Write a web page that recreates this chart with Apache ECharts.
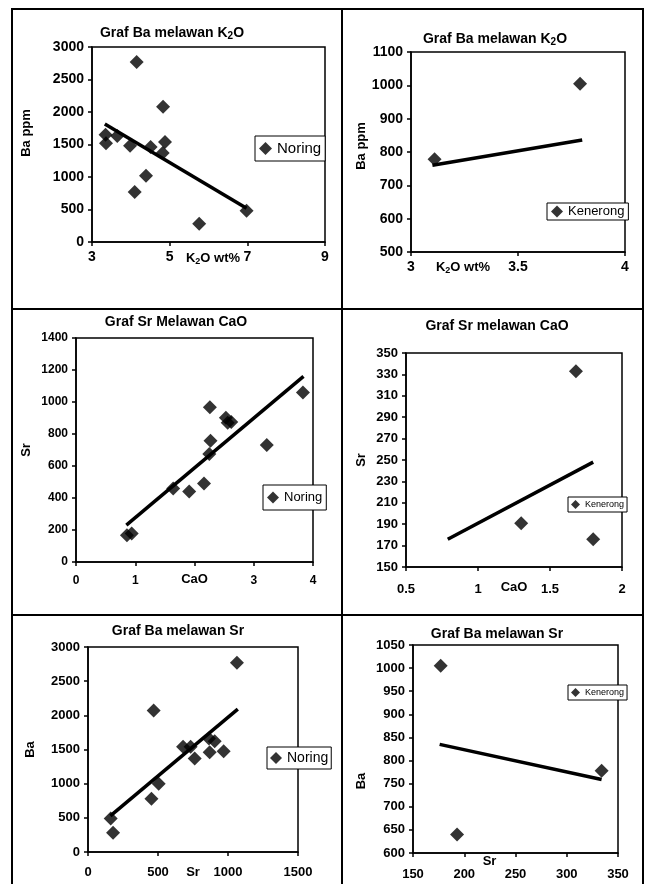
<!DOCTYPE html>
<html>
<head>
<meta charset="utf-8">
<title>Graf Noring / Kenerong</title>
<script src="https://cdn.jsdelivr.net/npm/echarts@6/dist/echarts.min.js"></script>
<style>
  html, body { margin: 0; padding: 0; background: #fff; }
  #main { width: 645px; height: 884px; }
</style>
</head>
<body>
<div id="main"></div>
<script>
// --- Noring: Ba vs K2O
var k2oNoring = [3.35, 3.36, 3.65, 3.98, 4.10, 4.39, 4.15, 4.51, 4.82, 4.88, 4.83, 5.76, 6.98];
var baNoring1 = [1650, 1520, 1630, 1480, 770, 1020, 2770, 1460, 1370, 1540, 2080, 280, 480];
var trend1X = [3.33, 6.98];
var trend1Y = [1815, 520];

// --- Kenerong: Ba vs K2O
var k2oKenerong = [3.11, 3.79];
var baKenerong2 = [778, 1005];
var trend2X = [3.10, 3.80];
var trend2Y = [760, 836];

// --- Noring: Sr vs CaO
var caoNoring = [0.86, 0.94, 1.64, 1.91, 2.16, 2.26, 2.27, 2.25, 2.53, 2.56, 2.62, 3.22, 3.83];
var srNoring3 = [167, 178, 460, 440, 490, 967, 758, 675, 902, 870, 875, 731, 1060];
var trend3X = [0.85, 3.84];
var trend3Y = [230, 1160];

// --- Kenerong: Sr vs CaO
var caoKenerong = [1.68, 1.30, 1.80];
var srKenerong4 = [333, 191, 176];
var trend4X = [0.79, 1.80];
var trend4Y = [176, 248];

// --- Noring: Ba vs Sr
var srNoring5 = [162, 179, 453, 505, 469, 679, 733, 762, 864, 905, 869, 969, 1064];
var baNoring5 = [490, 280, 780, 1000, 2070, 1540, 1540, 1370, 1660, 1620, 1460, 1475, 2770];
var trend5X = [160, 1070];
var trend5Y = [530, 2090];

// --- Kenerong: Ba vs Sr
var srKenerong6 = [177, 193, 334];
var baKenerong6 = [1005, 640, 778];
var trend6X = [176, 334];
var trend6Y = [835, 759];

var titles = ['Graf Ba melawan K{s|2}O', 'Graf Ba melawan K{s|2}O', 'Graf Sr Melawan CaO',
              'Graf Sr melawan CaO', 'Graf Ba melawan Sr', 'Graf Ba melawan Sr'];
var xNames = ['K{s|2}O wt%', 'K{s|2}O wt%', 'CaO', 'CaO', 'Sr', 'Sr'];
var yNames = ['Ba ppm', 'Ba ppm', 'Sr', 'Sr', 'Ba', 'Ba'];

var font = '"Liberation Sans", Arial, sans-serif';

function pairs(xs, ys) {
  return xs.map(function (x, i) { return [x, ys[i]]; });
}

function sub(fs) {
  return { s: { fontSize: Math.round(fs * 0.7), fontWeight: 'bold', fontFamily: font, color: '#000', verticalAlign: 'bottom', padding: [Math.round(fs * 0.45), 0, 0, 0] } };
}

// layout of each panel
var panels = [
  { grid: [92, 47, 233, 195], title: [172, 25], x: [3, 9, 2], y: [0, 3000, 500], fs: 14, xm: 8, ym: 8,
    xGap: 9, xPad: [0, 0, 0, 9], yGap: 59, yPad: [0, 0, 0, 23],
    legend: { name: 'Noring', left: 255, top: 136, fs: 15, icon: 13, pad: [5, 4, 5, 4] },
    data: pairs(k2oNoring, baNoring1), trend: pairs(trend1X, trend1Y) },
  { grid: [411, 52, 214, 200], title: [495, 31], x: [3, 4, 0.5], y: [500, 1100, 100], fs: 14, xm: 8, ym: 8,
    xGap: 8, xPad: [0, 110, 0, 0], yGap: 43, yPad: [0, 0, 0, 12],
    legend: { name: 'Kenerong', left: 547, top: 203, fs: 13, icon: 12, pad: [2, 4, 2, 4] },
    data: pairs(k2oKenerong, baKenerong2), trend: pairs(trend2X, trend2Y) },
  // the "2" tick label is hidden under the "CaO" axis name in the original
  { grid: [76, 338, 237, 224], title: [176, 315], x: [0, 4, 1], y: [0, 1400, 200], fs: 12, xm: 13, ym: 8,
    xGap: 11, xPad: [0, 0, 0, 0], yGap: 43, yPad: [0, 0, 0, 0], xHide: 2,
    legend: { name: 'Noring', left: 263, top: 485, fs: 13, icon: 12, pad: [6, 4, 6, 4] },
    data: pairs(caoNoring, srNoring3), trend: pairs(trend3X, trend3Y) },
  { grid: [406, 353, 216, 214], title: [497, 319], x: [0.5, 2, 0.5], y: [150, 350, 20], fs: 13, xm: 16, ym: 8,
    xGap: 14, xPad: [0, 0, 0, 0], yGap: 38, yPad: [0, 0, 0, 0],
    legend: { name: 'Kenerong', left: 568, top: 497, fs: 9, icon: 9, pad: [3, 3, 3, 3] },
    data: pairs(caoKenerong, srKenerong4), trend: pairs(trend4X, trend4Y) },
  { grid: [88, 647, 210, 205], title: [178, 624], x: [0, 1500, 500], y: [0, 3000, 500], fs: 13, xm: 14, ym: 8,
    xGap: 14, xPad: [0, 0, 0, 0], yGap: 51, yPad: [0, 0, 0, 0],
    legend: { name: 'Noring', left: 267, top: 747, fs: 14, icon: 12, pad: [4, 3, 4, 3] },
    data: pairs(srNoring5, baNoring5), trend: pairs(trend5X, trend5Y) },
  { grid: [413, 645, 205, 208], title: [497, 627], x: [150, 350, 50], y: [600, 1050, 50], fs: 13, xm: 15, ym: 8,
    xGap: 2, xPad: [0, 52, 0, 0], yGap: 45, yPad: [0, 64, 0, 0],
    legend: { name: 'Kenerong', left: 568, top: 685, fs: 9, icon: 9, pad: [3, 3, 3, 3] },
    data: pairs(srKenerong6, baKenerong6), trend: pairs(trend6X, trend6Y) }
];

function axis(idx, r, fs, margin, name, gap, pad, rotate, hide) {
  return {
    type: 'value', gridIndex: idx, min: r[0], max: r[1], interval: r[2],
    axisLine: { show: true, onZero: false, lineStyle: { color: '#000', width: 1.5 } },
    axisTick: { show: true, inside: false, length: 4, lineStyle: { color: '#000', width: 1.5 } },
    axisLabel: {
      color: '#000', fontSize: fs, fontWeight: 'bold', fontFamily: font, margin: margin, hideOverlap: false,
      formatter: function (v) { return v === hide ? '' : String(v); }
    },
    splitLine: { show: false },
    name: name, nameLocation: 'middle', nameGap: gap, nameRotate: rotate, nameMoveOverlap: false,
    nameTextStyle: { color: '#000', fontSize: 13, fontWeight: 'bold', fontFamily: font, padding: pad, rich: sub(13) }
  };
}

var option = {
  animation: false,
  backgroundColor: '#fff',
  title: [], grid: [], xAxis: [], yAxis: [], legend: [], series: [],
  graphic: [
    { type: 'rect', shape: { x: 12, y: 9, width: 631, height: 890 }, style: { fill: 'none', stroke: '#000', lineWidth: 2 } },
    { type: 'line', shape: { x1: 342, y1: 9, x2: 342, y2: 884 }, style: { stroke: '#000', lineWidth: 2 } },
    { type: 'line', shape: { x1: 12, y1: 309, x2: 643, y2: 309 }, style: { stroke: '#000', lineWidth: 2 } },
    { type: 'line', shape: { x1: 12, y1: 615, x2: 643, y2: 615 }, style: { stroke: '#000', lineWidth: 2 } }
  ]
};

panels.forEach(function (p, i) {
  option.title.push({
    text: titles[i], left: p.title[0], top: p.title[1], textAlign: 'center', padding: 0,
    textStyle: { color: '#000', fontSize: 14, fontWeight: 'bold', fontFamily: font, rich: sub(14) }
  });
  option.grid.push({
    left: p.grid[0], top: p.grid[1], width: p.grid[2], height: p.grid[3],
    show: true, borderColor: '#000', borderWidth: 1.5, backgroundColor: '#fff',
    containLabel: false, outerBoundsMode: 'none'
  });
  option.xAxis.push(axis(i, p.x, p.fs, p.xm, xNames[i], p.xGap, p.xPad, 0, p.xHide));
  option.yAxis.push(axis(i, p.y, p.fs, p.ym, yNames[i], p.yGap, p.yPad, 90));
  option.legend.push({
    left: p.legend.left, top: p.legend.top, data: [p.legend.name], selectedMode: false,
    icon: 'diamond', itemWidth: p.legend.icon, itemHeight: p.legend.icon,
    padding: p.legend.pad, borderColor: '#000', borderWidth: 1, backgroundColor: '#fff',
    textStyle: { color: '#000', fontSize: p.legend.fs, fontFamily: font }
  });
  option.series.push({
    name: p.legend.name, type: 'scatter', xAxisIndex: i, yAxisIndex: i,
    symbol: 'diamond', symbolSize: 14, itemStyle: { color: '#000' }, data: p.data
  });
  option.series.push({
    name: 'trend' + (i + 1), type: 'line', xAxisIndex: i, yAxisIndex: i,
    symbol: 'none', showSymbol: false, lineStyle: { color: '#000', width: 3.5 }, data: p.trend
  });
});

var myChart = echarts.init(document.getElementById('main'), null, { renderer: 'canvas' });
myChart.setOption(option);
</script>
</body>
</html>
